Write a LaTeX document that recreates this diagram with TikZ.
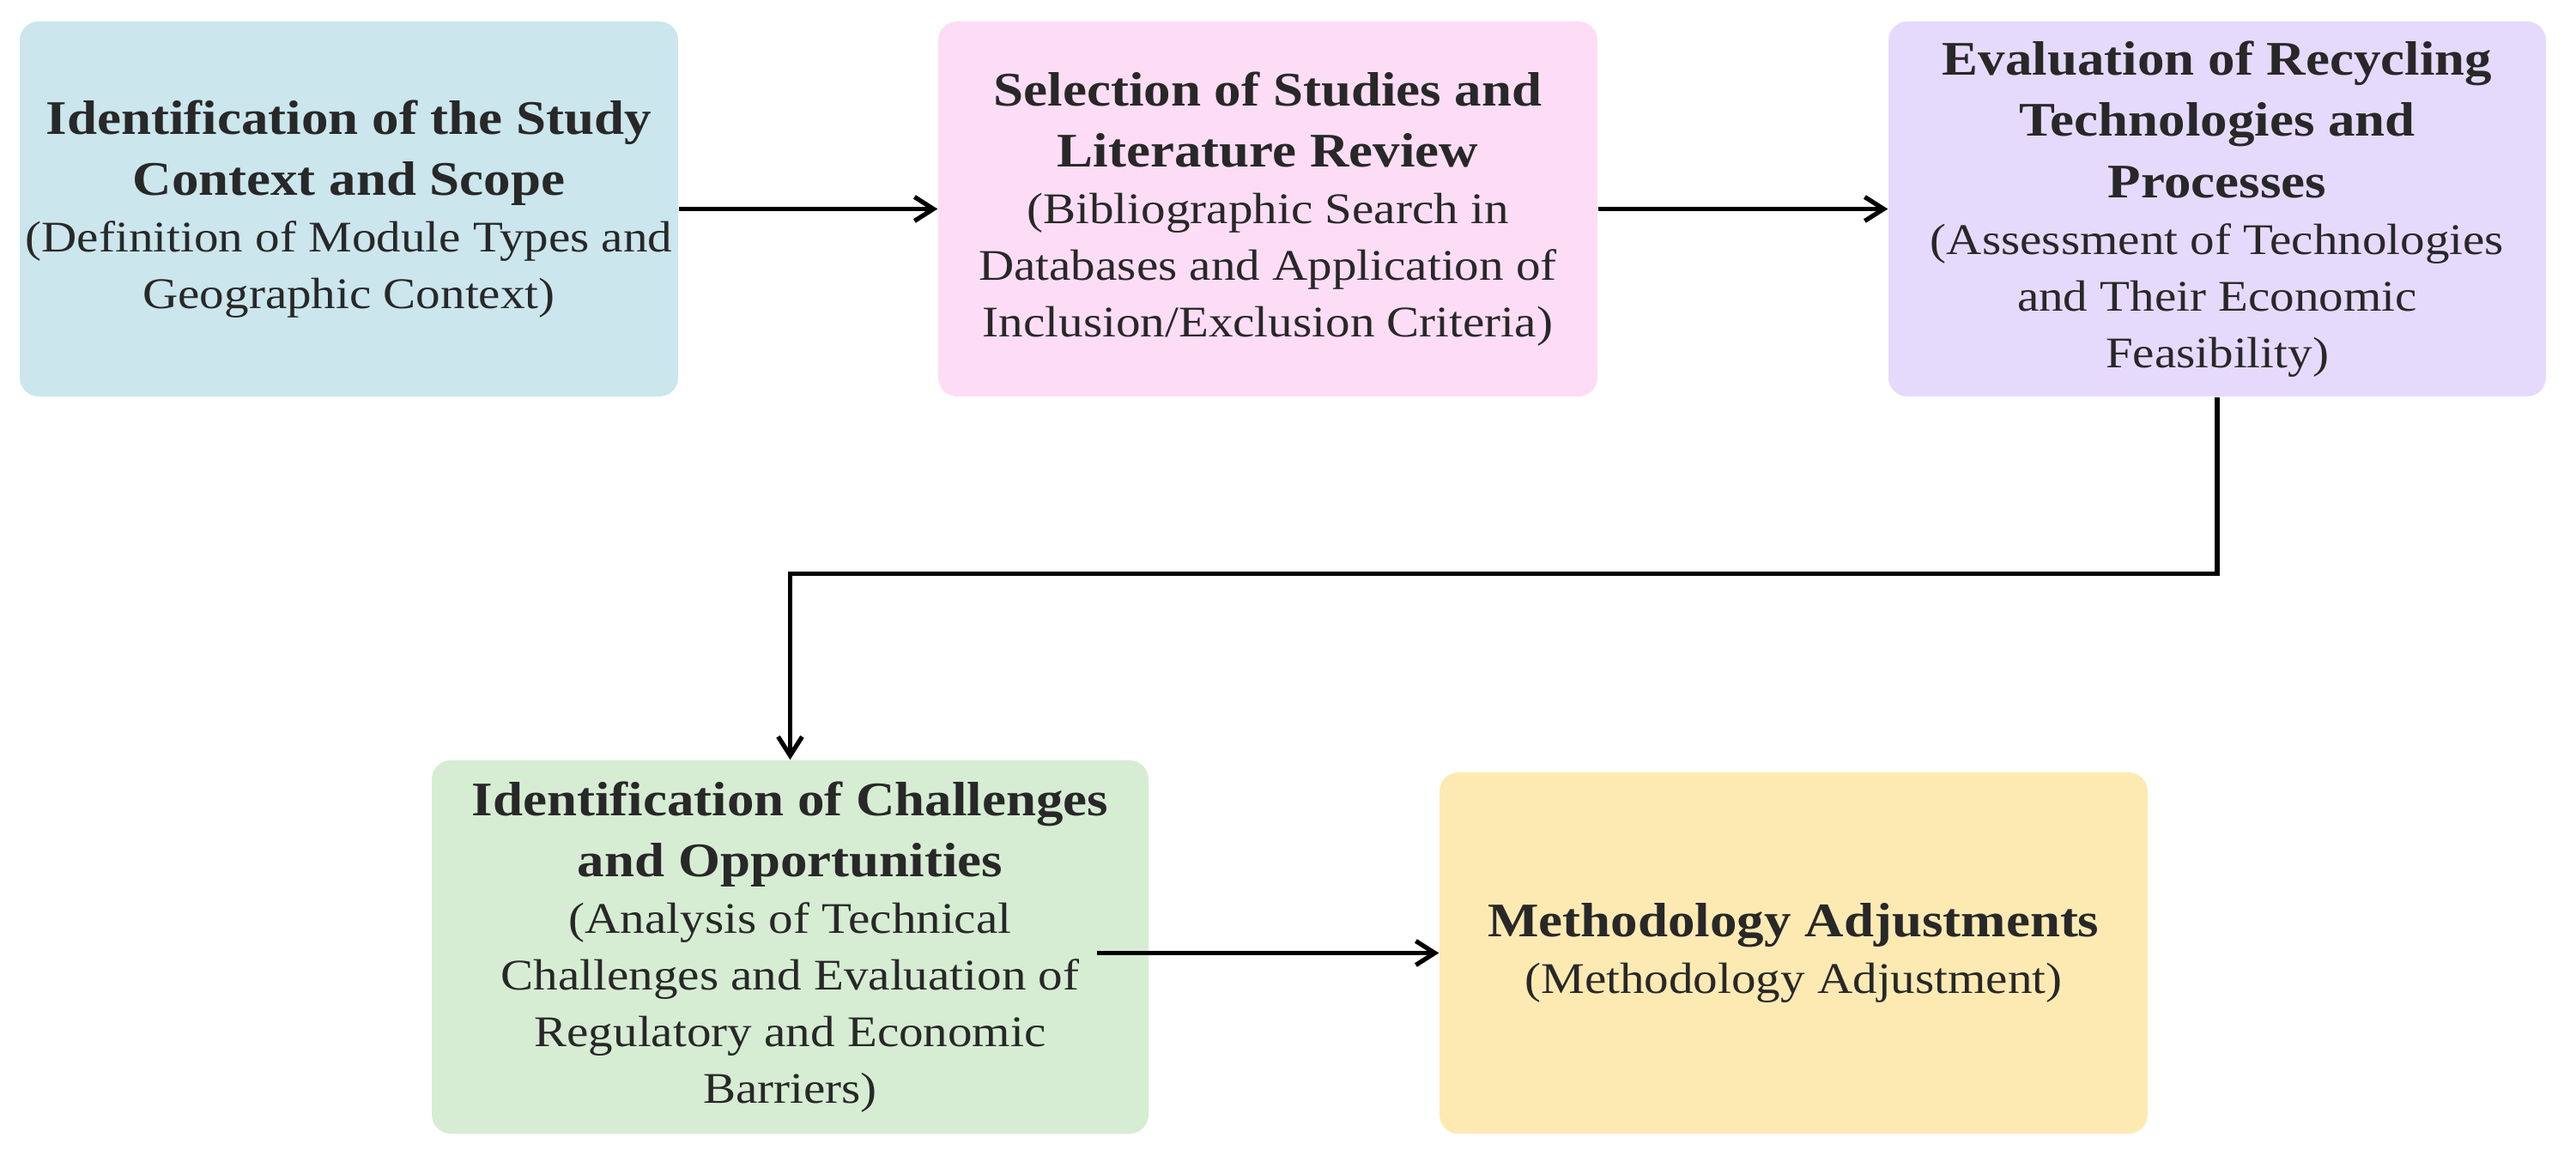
\documentclass[tikz,border=0pt]{standalone}
\usepackage{fontspec}
\setmainfont{Liberation Serif}[FakeStretch=1.12]
\usetikzlibrary{arrows.meta}

\definecolor{scopeblue}{RGB}{203,230,236}
\definecolor{reviewpink}{RGB}{252,221,245}
\definecolor{techpurple}{RGB}{230,218,252}
\definecolor{barrgreen}{RGB}{214,237,211}
\definecolor{adjyellow}{RGB}{253,234,179}
\definecolor{inkgray}{RGB}{40,40,40}

\newcommand{\hd}[1]{{\fontsize{16}{20.5}\selectfont\bfseries #1}}

\begin{document}
\begin{tikzpicture}[x=1cm,y=1cm,
  stage/.style={rounded corners=0.22cm, align=center, inner sep=0pt,
    text=inkgray, font=\fontsize{14.5}{18.8}\selectfont},
  flow/.style={-{Straight Barb[length=2.2mm,width=2.8mm]}, line width=1.5pt}]
  \useasboundingbox (0,0) rectangle (30.01,13.54);
  % top row
  \node[stage, fill=scopeblue, minimum width=7.67cm, minimum height=4.37cm]
    (scope) at (4.065,11.105)
    {\hd{Identification of the Study}\\[1.5pt] \hd{Context and Scope}\\
     (Definition of Module Types and\\ Geographic Context)};
  \node[stage, fill=reviewpink, minimum width=7.68cm, minimum height=4.37cm]
    (review) at (14.77,11.105)
    {\hd{Selection of Studies and}\\[1.5pt] \hd{Literature Review}\\
     (Bibliographic Search in\\ Databases and Application of\\
     Inclusion/Exclusion Criteria)};
  \node[stage, fill=techpurple, minimum width=7.66cm, minimum height=4.37cm]
    (tech) at (25.83,11.105)
    {\hd{Evaluation of Recycling}\\[1.5pt] \hd{Technologies and}\\[1.5pt]
     \hd{Processes}\\ (Assessment of Technologies\\ and Their Economic\\
     Feasibility)};
  % bottom row
  \node[stage, fill=barrgreen, minimum width=8.35cm, minimum height=4.35cm]
    (barr) at (9.205,2.505)
    {\hd{Identification of Challenges}\\[1.5pt] \hd{and Opportunities}\\
     (Analysis of Technical\\ Challenges and Evaluation of\\
     Regulatory and Economic\\ Barriers)};
  \node[stage, fill=adjyellow, minimum width=8.25cm, minimum height=4.21cm]
    (adj) at (20.895,2.435)
    {\hd{Methodology Adjustments}\\ (Methodology Adjustment)};

  \foreach \a/\b in {scope/review, review/tech}
    \draw[flow] (\a) -- (\b);
  \draw[flow] (tech.south) -- ++(0,-2.06) -| (barr.north);
  \draw[flow] ([xshift=-6.1mm]barr.east |- adj.west) -- (adj.west);
\end{tikzpicture}
\end{document}
